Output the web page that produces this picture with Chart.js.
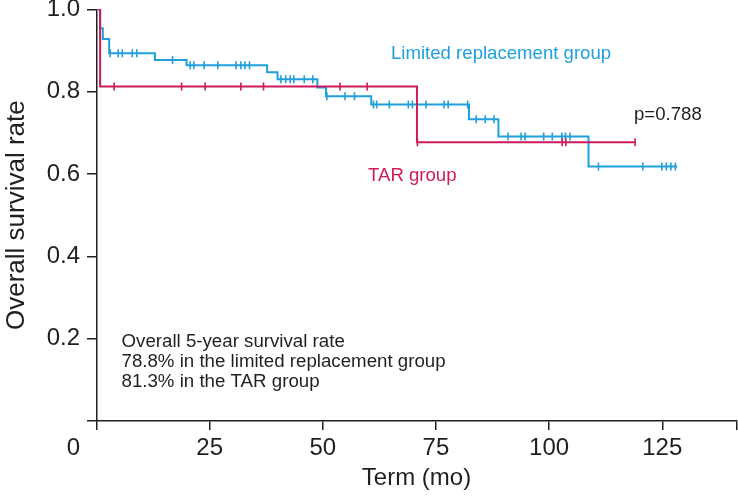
<!DOCTYPE html>
<html><head><meta charset="utf-8">
<script src="https://cdn.jsdelivr.net/npm/chart.js@4"></script>
<style>html,body{margin:0;padding:0;background:#fff;}#wrap{width:738px;height:500px;}</style>
</head><body><div id="wrap"><canvas id="c" width="738" height="500"></canvas></div>
<script>
// ---- data ----
const xTickValues = [0, 25, 50, 75, 100, 125];
const yTickValues = [0, 0.2, 0.4, 0.6, 0.8, 1.0];
const xAxisMax = 141.4;

const limitedTimes = [0, 0.8, 1.4, 2.8, 12.9, 19.9, 37.7, 40.0, 48.8, 50.7, 60.7, 82.3, 88.8, 108.7, 128.3];
const limitedSurvival = [1.0, 0.954, 0.928, 0.893, 0.877, 0.864, 0.847, 0.830, 0.810, 0.789, 0.769, 0.733, 0.691, 0.618, 0.618];
const limitedCensored = [3.0, 4.8, 5.7, 7.9, 8.9, 16.8, 20.7, 21.5, 23.8, 26.8, 30.8, 31.9, 32.8, 33.8,
  40.7, 41.8, 42.8, 43.6, 45.9, 47.8, 50.9, 54.9, 57.0, 61.2, 61.9, 64.7, 68.9, 69.8, 72.8, 76.8, 77.7, 82.0,
  83.9, 85.9, 87.8, 90.9, 93.8, 94.7, 98.8, 100.7, 102.8, 103.6, 104.6, 110.9, 120.7, 124.9, 125.9, 126.9, 127.9];

const tarTimes = [0, 0.8, 70.8, 119.0];
const tarSurvival = [1.0, 0.8125, 0.677, 0.677];
const tarCensored = [3.9, 18.8, 24.0, 31.9, 36.9, 53.8, 59.8, 70.9, 102.9, 103.7, 119.0];

const summaryLines = ['Overall 5-year survival rate', '78.8% in the limited replacement group', '81.3% in the TAR group'];

// ---- styles ----
const BLUE = '#1fa0dc';
const RED = '#cc1a5c';
const AXIS = '#231f20';
const FAM = "'Liberation Sans', Arial, Helvetica, sans-serif";

function survivalAt(times, surv, t) {
  let s = surv[0];
  for (let i = 0; i < times.length; i++) { if (times[i] <= t) s = surv[i]; }
  return s;
}
const curve = (times, surv) => times.map((t, i) => ({ x: t, y: surv[i] }));
const marks = (cens, times, surv) => cens.map(t => ({ x: t, y: survivalAt(times, surv, t) }));

const annot = {
  id: 'annot',
  afterDraw(chart) {
    const ctx = chart.ctx;
    ctx.save();
    ctx.textBaseline = 'middle';
    ctx.textAlign = 'left';
    ctx.font = '18.6px ' + FAM;
    ctx.fillStyle = BLUE;
    ctx.fillText('Limited replacement group', 391, 53.5);
    ctx.fillStyle = RED;
    ctx.fillText('TAR group', 368, 176);
    ctx.fillStyle = AXIS;
    ctx.fillText('p=0.788', 634, 114.5);
    ctx.font = '18.7px ' + FAM;
    summaryLines.forEach((l, i) => ctx.fillText(l, 121.5, 341.7 + i * 20));
    ctx.font = '24px ' + FAM;
    ctx.textAlign = 'center';
    ctx.fillText('0', 73.5, 448);
    ctx.restore();
  }
};

const gridOpts = (len) => ({ display: true, drawOnChartArea: false, drawTicks: true, tickLength: len, color: AXIS, lineWidth: 1.5 });

new Chart(document.getElementById('c'), {
  type: 'line',
  data: {
    datasets: [
      { label: 'TAR group', data: curve(tarTimes, tarSurvival), borderColor: RED, borderWidth: 2, stepped: true, pointRadius: 0, fill: false, order: 0 },
      { label: 'TAR censored', data: marks(tarCensored, tarTimes, tarSurvival), showLine: false, pointStyle: 'line', rotation: 90, pointRadius: 4, pointBorderWidth: 1.6, borderColor: RED, backgroundColor: RED, order: 1 },
      { label: 'Limited replacement group', data: curve(limitedTimes, limitedSurvival), borderColor: BLUE, borderWidth: 2, stepped: true, pointRadius: 0, fill: false, order: 2 },
      { label: 'Limited censored', data: marks(limitedCensored, limitedTimes, limitedSurvival), showLine: false, pointStyle: 'line', rotation: 90, pointRadius: 4, pointBorderWidth: 1.6, borderColor: BLUE, backgroundColor: BLUE, order: 3 }
    ]
  },
  options: {
    responsive: false,
    animation: false,
    layout: { autoPadding: false, padding: { left: 0, right: 1.5, top: 9.3, bottom: 0 } },
    plugins: { legend: { display: false }, tooltip: { enabled: false } },
    scales: {
      x: {
        type: 'linear', min: 0, max: xAxisMax,
        afterBuildTicks: s => { s.ticks = xTickValues.concat([xAxisMax]).map(v => ({ value: v })); },
        ticks: { callback: v => (v > 0 && v <= 125 ? String(v) : ''), font: { family: FAM, size: 24, lineHeight: 1.53 }, color: AXIS, padding: 0, maxRotation: 0, autoSkip: false },
        grid: gridOpts(9),
        border: { display: true, color: AXIS, width: 1.5 },
        title: { display: true, text: 'Term (mo)', font: { family: FAM, size: 24 }, color: AXIS, padding: { top: 0, bottom: 7 } },
        afterFit: s => { s.height = 79; s.paddingLeft = 0; s.paddingRight = 0; }
      },
      y: {
        type: 'linear', min: 0, max: 1,
        afterBuildTicks: s => { s.ticks = yTickValues.map(v => ({ value: v })); },
        ticks: { callback: v => (v === 0 ? '' : Number(v).toFixed(1)), font: { family: FAM, size: 24 }, color: AXIS, padding: 7 },
        grid: gridOpts(9.5),
        border: { display: true, color: AXIS, width: 1.5 },
        title: { display: true, text: 'Overall survival rate', font: { family: FAM, size: 26 }, color: AXIS, padding: { top: 1, bottom: 0 } },
        afterFit: s => { s.width = 96.5; s.paddingTop = 0; s.paddingBottom = 0; }
      }
    }
  },
  plugins: [annot]
});
</script></body></html>
